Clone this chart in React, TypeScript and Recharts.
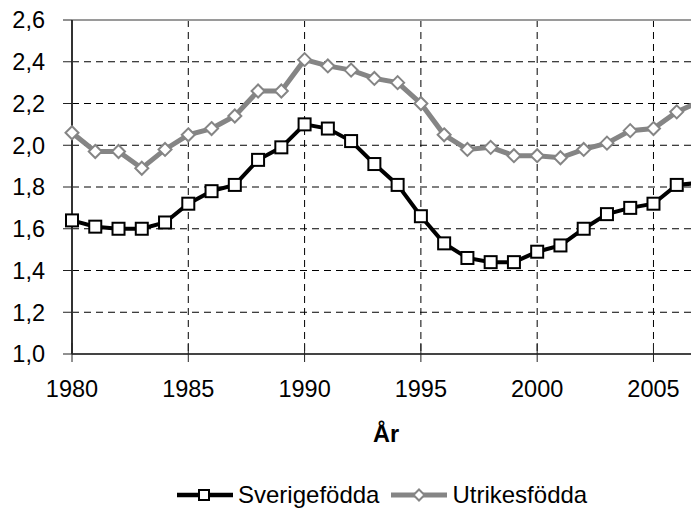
import { LineChart, Line, XAxis, YAxis, CartesianGrid, ReferenceLine } from "recharts";

const years = [1980,1981,1982,1983,1984,1985,1986,1987,1988,1989,1990,1991,1992,1993,1994,1995,1996,1997,1998,1999,2000,2001,2002,2003,2004,2005,2006,2007];
const sverigefodda = [1.64,1.61,1.60,1.60,1.63,1.72,1.78,1.81,1.93,1.99,2.10,2.08,2.02,1.91,1.81,1.66,1.53,1.46,1.44,1.44,1.49,1.52,1.60,1.67,1.70,1.72,1.81,1.82];
const utrikesfodda = [2.06,1.97,1.97,1.89,1.98,2.05,2.08,2.14,2.26,2.26,2.41,2.38,2.36,2.32,2.30,2.20,2.05,1.98,1.99,1.95,1.95,1.94,1.98,2.01,2.07,2.08,2.16,2.21];
const xTicks = [1980,1985,1990,1995,2000,2005];
const yTicks = [1.0,1.2,1.4,1.6,1.8,2.0,2.2,2.4,2.6];

const data = years.map((y,i) => ({ year: y, sv: sverigefodda[i], ut: utrikesfodda[i] }));

const FONT = "'Liberation Sans', Arial, sans-serif";
const GRAY = "#858585";

const Square = (p: any) => {
  const { cx, cy } = p;
  if (cx == null || cy == null) return null;
  return <rect key={p.index} x={cx-6} y={cy-6} width={12} height={12} fill="#fff" stroke="#000" strokeWidth={2}/>;
};

const Diamond = (p: any) => {
  const { cx, cy } = p;
  if (cx == null || cy == null) return null;
  return <polygon key={p.index} points={`${cx},${cy-6.5} ${cx+6.5},${cy} ${cx},${cy+6.5} ${cx-6.5},${cy}`} fill="#fff" stroke={GRAY} strokeWidth={2}/>;
};

const XTick = ({ x, y, payload }: any) => (
  <g>
    <line x1={x} x2={x} y1={y-11} y2={y+8} stroke="#222" strokeWidth={1}/>
    <text x={x} y={y+43} textAnchor="middle" fontSize={23.5} fontFamily={FONT} fill="#000">{payload.value}</text>
  </g>
);

const LegendIcon = ({ color, marker }: { color: string; marker: "square" | "diamond" }) => (
  <svg width={58} height={20} style={{ display:"block" }}>
    <line x1={1} x2={57} y1={10} y2={10} stroke={color} strokeWidth={marker === "square" ? 4.5 : 5}/>
    {marker === "square"
      ? <rect x={23} y={5} width={10} height={10} fill="#fff" stroke="#000" strokeWidth={2}/>
      : <polygon points="29,4.5 34.5,10 29,15.5 23.5,10" fill="#fff" stroke={GRAY} strokeWidth={2}/>}
  </svg>
);

export default function App() {
  return (
    <div style={{ position:"absolute", left:0, top:0, width:691, height:509, overflow:"hidden", background:"#fff" }}>
      <LineChart width={720} height={509} data={data} margin={{ top:20, right:20, left:0, bottom:95 }}>
        <CartesianGrid stroke="#000" strokeDasharray="7 5" strokeWidth={1}/>
        <ReferenceLine y={2.6} stroke="#9a9a9a" strokeWidth={2}/>
        <XAxis dataKey="year" type="number" domain={[1980,2007]} ticks={xTicks} height={60}
          axisLine={{ stroke:"#444", strokeWidth:2 }} tickLine={false} tickSize={0} tickMargin={0}
          tick={<XTick/>}
          label={{ value:"År", position:"bottom", offset:11, style:{ fontFamily:FONT, fontSize:23.5, fontWeight:700, fill:"#000" } }}/>
        <YAxis type="number" domain={[1.0,2.6]} ticks={yTicks} width={72} interval={0}
          axisLine={{ stroke:"#333", strokeWidth:2 }} tickLine={{ stroke:"#222" }} tickSize={9} tickMargin={18}
          tick={{ fontFamily:FONT, fontSize:23.5, fill:"#000" }}
          tickFormatter={(v: number) => v.toFixed(1).replace(".", ",")}/>
        <Line type="linear" dataKey="ut" stroke={GRAY} strokeWidth={5} dot={Diamond} isAnimationActive={false}/>
        <Line type="linear" dataKey="sv" stroke="#000" strokeWidth={4} dot={Square} isAnimationActive={false}/>
      </LineChart>
      <div style={{ position:"absolute", left:176, top:483, display:"flex", alignItems:"center", fontFamily:FONT, fontSize:24, lineHeight:"24px", color:"#000" }}>
        <LegendIcon color="#000" marker="square"/>
        <span style={{ marginLeft:4, marginRight:11 }}>Sverigefödda</span>
        <LegendIcon color={GRAY} marker="diamond"/>
        <span style={{ marginLeft:4 }}>Utrikesfödda</span>
      </div>
    </div>
  );
}
